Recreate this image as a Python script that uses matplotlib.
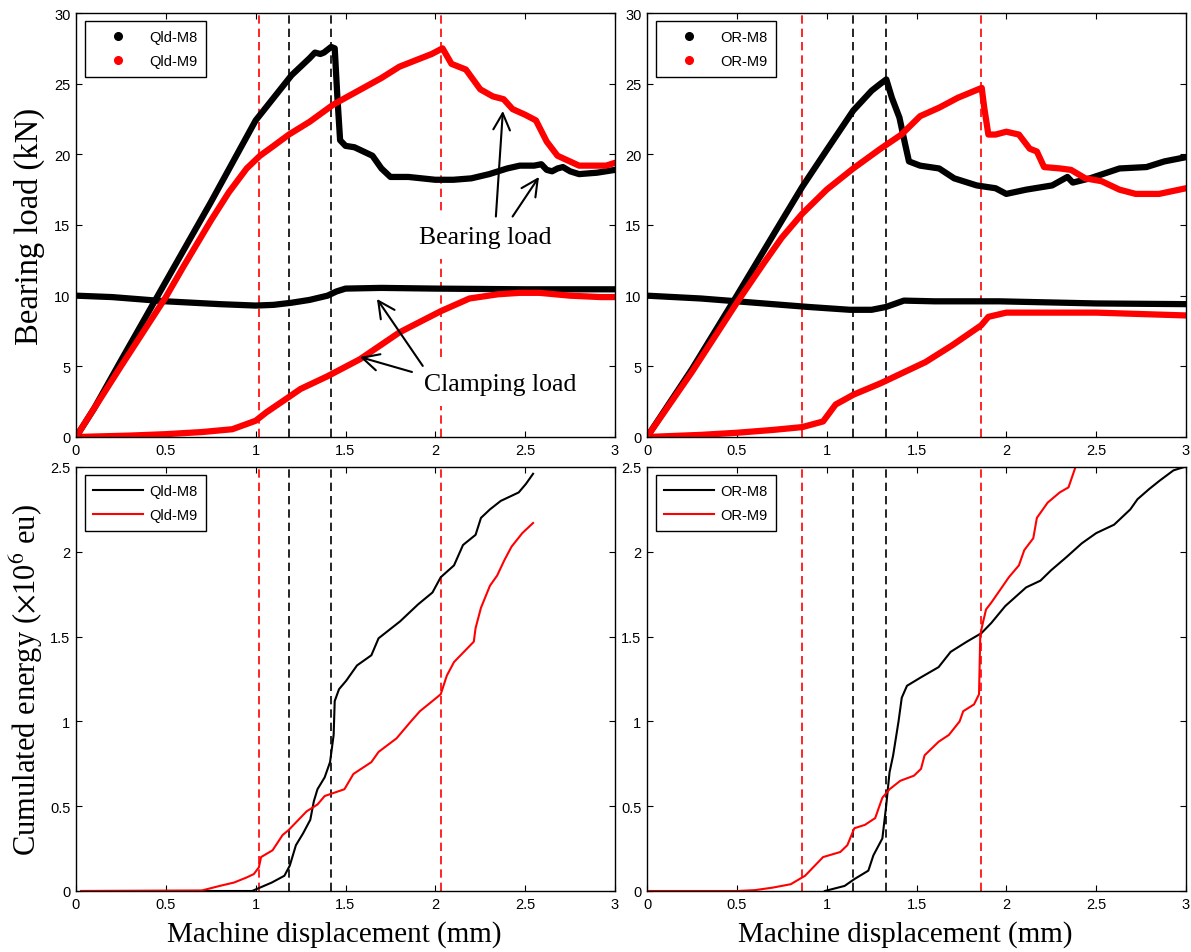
import matplotlib
matplotlib.use('Agg')
from matplotlib import pyplot as plt
from matplotlib.lines import Line2D
from matplotlib.ticker import FuncFormatter

plt.rcParams['font.family'] = 'Liberation Sans'
plt.rcParams['mathtext.fontset'] = 'stix'

# ---- Qld specimen, bearing / clamping load (kN) vs displacement (mm)
qld_m8_bear_x = [0, 0.1, 0.25, 0.5, 0.75, 1.0, 1.1, 1.2, 1.3, 1.33, 1.36, 1.38, 1.42, 1.44, 1.455, 1.47,
                 1.5, 1.55, 1.6, 1.65, 1.7, 1.75, 1.85, 2.0, 2.1, 2.2, 2.3, 2.4, 2.47, 2.55, 2.59, 2.62,
                 2.65, 2.68, 2.71, 2.75, 2.8, 2.9, 3.0]
qld_m8_bear_y = [0, 2.0, 5.4, 11.0, 16.6, 22.4, 24.0, 25.6, 26.8, 27.2, 27.1, 27.2, 27.6, 27.5, 24.0, 21.0,
                 20.6, 20.5, 20.2, 19.9, 19.0, 18.4, 18.4, 18.2, 18.2, 18.3, 18.6, 19.0, 19.2, 19.2, 19.3, 18.9,
                 18.8, 19.0, 19.1, 18.8, 18.6, 18.7, 18.9]
qld_m9_bear_x = [0, 0.25, 0.5, 0.6, 0.75, 0.85, 0.95, 1.024, 1.1, 1.185, 1.3, 1.43, 1.5, 1.6, 1.7, 1.8,
                 1.9, 1.98, 2.04, 2.09, 2.17, 2.25, 2.32, 2.38, 2.43, 2.5, 2.56, 2.62, 2.68, 2.8, 2.95, 3.0]
qld_m9_bear_y = [0, 5.0, 9.9, 12.1, 15.3, 17.3, 19.0, 19.9, 20.6, 21.4, 22.3, 23.5, 24.0, 24.7, 25.4, 26.2,
                 26.7, 27.1, 27.5, 26.4, 26.0, 24.6, 24.1, 23.9, 23.2, 22.8, 22.4, 20.9, 19.9, 19.2, 19.2, 19.4]
qld_m8_clamp_x = [0, 0.2, 0.5, 0.8, 1.0, 1.1, 1.2, 1.3, 1.4, 1.45, 1.5, 1.7, 2.0, 2.5, 3.0]
qld_m8_clamp_y = [10.0, 9.9, 9.6, 9.4, 9.3, 9.35, 9.5, 9.7, 10.0, 10.3, 10.5, 10.55, 10.5, 10.45, 10.45]
qld_m9_clamp_x = [0, 0.3, 0.5, 0.7, 0.87, 1.0, 1.06, 1.17, 1.25, 1.4, 1.58, 1.8, 2.03, 2.19, 2.35, 2.47,
                  2.58, 2.75, 2.92, 3.0]
qld_m9_clamp_y = [0.0, 0.1, 0.2, 0.35, 0.55, 1.15, 1.75, 2.7, 3.4, 4.3, 5.5, 7.4, 8.9, 9.8, 10.1, 10.2,
                  10.2, 10.0, 9.9, 9.9]

# ---- OR specimen
or_m8_bear_x = [0, 0.25, 0.5, 0.75, 0.864, 1.0, 1.148, 1.25, 1.3, 1.332, 1.363, 1.405, 1.437, 1.458, 1.52,
                1.626, 1.71, 1.835, 1.94, 2.0, 2.11, 2.255, 2.34, 2.37, 2.465, 2.63, 2.78, 2.88, 3.0]
or_m8_bear_y = [0, 4.8, 10.0, 15.3, 17.7, 20.3, 23.1, 24.5, 25.0, 25.3, 24.0, 22.6, 20.7, 19.5, 19.2,
                19.0, 18.3, 17.8, 17.6, 17.2, 17.5, 17.8, 18.4, 18.0, 18.3, 19.0, 19.1, 19.5, 19.8]
or_m9_bear_x = [0, 0.25, 0.5, 0.65, 0.75, 0.864, 1.0, 1.148, 1.3, 1.416, 1.52, 1.626, 1.73, 1.863, 1.877,
                1.9, 1.94, 2.0, 2.07, 2.13, 2.17, 2.21, 2.3, 2.36, 2.44, 2.53, 2.63, 2.72, 2.85, 3.0]
or_m9_bear_y = [0, 4.6, 9.5, 12.3, 14.1, 15.8, 17.5, 19.0, 20.4, 21.4, 22.7, 23.3, 24.0, 24.7, 23.3,
                21.4, 21.4, 21.6, 21.4, 20.4, 20.2, 19.1, 19.0, 18.9, 18.3, 18.1, 17.5, 17.2, 17.2, 17.6]
or_m8_clamp_x = [0, 0.3, 0.6, 0.9, 1.13, 1.25, 1.33, 1.43, 1.6, 1.96, 2.5, 3.0]
or_m8_clamp_y = [10.0, 9.8, 9.5, 9.2, 9.0, 9.0, 9.2, 9.65, 9.6, 9.6, 9.45, 9.4]
or_m9_clamp_x = [0, 0.3, 0.5, 0.7, 0.864, 0.98, 1.05, 1.15, 1.3, 1.4, 1.55, 1.7, 1.86, 1.9, 2.0, 2.5, 3.0]
or_m9_clamp_y = [0, 0.15, 0.3, 0.5, 0.7, 1.1, 2.3, 3.0, 3.8, 4.4, 5.3, 6.5, 7.9, 8.5, 8.8, 8.8, 8.6]

# ---- cumulated AE energy (x10^6 eu)
qld_m8_en_x = [0.03, 0.98, 1.024, 1.09, 1.16, 1.19, 1.224, 1.264, 1.304, 1.324, 1.344, 1.384, 1.414,
               1.434, 1.44, 1.464, 1.504, 1.564, 1.644, 1.684, 1.804, 1.904, 1.984, 2.03, 2.104, 2.154,
               2.224, 2.254, 2.304, 2.364, 2.464, 2.504, 2.544]
qld_m8_en_y = [0, 0, 0.02, 0.05, 0.09, 0.15, 0.27, 0.34, 0.42, 0.53, 0.6, 0.67, 0.76,
               0.92, 1.12, 1.19, 1.24, 1.33, 1.39, 1.49, 1.59, 1.69, 1.76, 1.85, 1.92, 2.04,
               2.10, 2.2, 2.25, 2.30, 2.35, 2.40, 2.46]
qld_m9_en_x = [0.03, 0.7, 0.8, 0.88, 0.95, 0.99, 1.018, 1.03, 1.094, 1.15, 1.184, 1.284, 1.344, 1.384,
               1.494, 1.544, 1.644, 1.684, 1.784, 1.864, 1.914, 1.984, 2.03, 2.064, 2.104, 2.214, 2.224,
               2.254, 2.304, 2.344, 2.384, 2.424, 2.484, 2.544]
qld_m9_en_y = [0, 0.003, 0.03, 0.05, 0.08, 0.1, 0.14, 0.2, 0.24, 0.33, 0.36, 0.47, 0.51, 0.56,
               0.6, 0.69, 0.76, 0.82, 0.9, 1.0, 1.06, 1.12, 1.16, 1.27, 1.35, 1.47, 1.55,
               1.67, 1.80, 1.86, 1.95, 2.03, 2.11, 2.17]
or_m8_en_x = [0.99, 1.1, 1.154, 1.232, 1.26, 1.31, 1.33, 1.35, 1.37, 1.40, 1.418, 1.447, 1.525, 1.623,
              1.69, 1.78, 1.861, 1.916, 1.994, 2.11, 2.19, 2.248, 2.336, 2.42, 2.5, 2.6, 2.69, 2.73,
              2.795, 2.854, 2.93, 2.99]
or_m8_en_y = [0, 0.03, 0.07, 0.12, 0.21, 0.31, 0.49, 0.70, 0.80, 1.0, 1.14, 1.21, 1.26, 1.32,
              1.41, 1.47, 1.52, 1.58, 1.68, 1.79, 1.83, 1.89, 1.97, 2.05, 2.11, 2.16, 2.25, 2.31,
              2.37, 2.42, 2.48, 2.5]
or_m9_en_x = [0.0, 0.5, 0.6, 0.7, 0.8, 0.88, 0.98, 1.076, 1.115, 1.154, 1.213, 1.27, 1.31, 1.35, 1.41,
              1.486, 1.525, 1.545, 1.623, 1.68, 1.74, 1.76, 1.82, 1.848, 1.855, 1.867, 1.887, 1.916,
              1.975, 2.014, 2.07, 2.1, 2.15, 2.17, 2.23, 2.297, 2.346, 2.385]
or_m9_en_y = [0, 0.0, 0.005, 0.02, 0.04, 0.09, 0.2, 0.23, 0.27, 0.37, 0.39, 0.43, 0.55, 0.60, 0.65,
              0.68, 0.72, 0.80, 0.88, 0.92, 1.0, 1.06, 1.10, 1.16, 1.51, 1.57, 1.66, 1.70,
              1.79, 1.85, 1.92, 2.01, 2.08, 2.20, 2.29, 2.35, 2.38, 2.5]

# vertical marker positions (mm)
qld_black_marks = [1.185, 1.42]
qld_red_marks = [1.02, 2.03]
or_black_marks = [1.148, 1.332]
or_red_marks = [0.865, 1.861]

serif = 'Liberation Serif'
fmt = FuncFormatter(lambda v, p: '%g' % v)

fig = plt.figure(figsize=(11.91, 9.53), dpi=100)
W, H = 1191, 953


def make_ax(left, top):
    ax = fig.add_axes([left / W, 1 - (top + 424) / H, 539 / W, 424 / H])
    ax.tick_params(direction='in', top=True, right=True, length=4, width=0.8,
                   labelsize=10.5, pad=4)
    for s in ax.spines.values():
        s.set_linewidth(1.0)
    ax.xaxis.set_major_formatter(fmt)
    ax.yaxis.set_major_formatter(fmt)
    ax.set_xlim(0, 3)
    ax.set_xticks([0, 0.5, 1, 1.5, 2, 2.5, 3])
    return ax


def marks(ax, black, red):
    for x in black:
        ax.axvline(x, color='k', ls=(0, (5, 3)), lw=1.2, zorder=1)
    for x in red:
        ax.axvline(x, color='red', ls=(0, (5, 3)), lw=1.2, zorder=1)


def add_legend(ax, handles, names):
    leg = ax.legend(handles, names, loc='upper left', bbox_to_anchor=(0.016, 0.981),
                    borderaxespad=0, fontsize=10.5, handlelength=3.4, handletextpad=0.4,
                    borderpad=0.6, labelspacing=0.7, fancybox=False, edgecolor='k',
                    framealpha=1)
    leg.get_frame().set_linewidth(1.0)


def top_panel(ax, names, m8b, m9b, m8c, m9c):
    ax.plot(*m8c, color='k', lw=4.5, zorder=2, solid_capstyle='round', solid_joinstyle='round')
    ax.plot(*m9c, color='red', lw=4.5, zorder=2, solid_capstyle='round', solid_joinstyle='round')
    ax.plot(*m8b, color='k', lw=4.5, zorder=2, solid_capstyle='round', solid_joinstyle='round')
    ax.plot(*m9b, color='red', lw=4.5, zorder=2, solid_capstyle='round', solid_joinstyle='round')
    ax.set_ylim(0, 30)
    ax.set_yticks(range(0, 31, 5))
    handles = [Line2D([], [], color='k', marker='.', ls='none', markersize=11),
               Line2D([], [], color='red', marker='.', ls='none', markersize=11)]
    add_legend(ax, handles, names)


def bottom_panel(ax, names, m8e, m9e):
    l1, = ax.plot(*m8e, color='k', lw=1.5, zorder=2)
    l2, = ax.plot(*m9e, color='red', lw=1.5, zorder=2)
    ax.set_ylim(0, 2.5)
    ax.set_yticks([0, 0.5, 1, 1.5, 2, 2.5])
    add_legend(ax, [l1, l2], names)
    ax.set_xlabel('Machine displacement (mm)', family=serif, fontsize=21)
    ax.xaxis.set_label_coords(0.48, -0.068)


ax1 = make_ax(76, 14)
ax2 = make_ax(647, 14)
ax3 = make_ax(76, 468)
ax4 = make_ax(647, 468)

marks(ax1, qld_black_marks, qld_red_marks)
marks(ax3, qld_black_marks, qld_red_marks)
marks(ax2, or_black_marks, or_red_marks)
marks(ax4, or_black_marks, or_red_marks)

top_panel(ax1, ['Qld-M8', 'Qld-M9'], (qld_m8_bear_x, qld_m8_bear_y), (qld_m9_bear_x, qld_m9_bear_y),
          (qld_m8_clamp_x, qld_m8_clamp_y), (qld_m9_clamp_x, qld_m9_clamp_y))
top_panel(ax2, ['OR-M8', 'OR-M9'], (or_m8_bear_x, or_m8_bear_y), (or_m9_bear_x, or_m9_bear_y),
          (or_m8_clamp_x, or_m8_clamp_y), (or_m9_clamp_x, or_m9_clamp_y))
bottom_panel(ax3, ['Qld-M8', 'Qld-M9'], (qld_m8_en_x, qld_m8_en_y), (qld_m9_en_x, qld_m9_en_y))
bottom_panel(ax4, ['OR-M8', 'OR-M9'], (or_m8_en_x, or_m8_en_y), (or_m9_en_x, or_m9_en_y))

ax1.set_ylabel('Bearing load (kN)', family=serif, fontsize=23.5)
ax1.yaxis.set_label_coords(-0.058, 0.5)
ax3.set_ylabel('Cumulated energy ($\\times$10$^{6}$ eu)', family=serif, fontsize=22)
ax3.yaxis.set_label_coords(-0.058, 0.5)

# annotations on the Qld panel
box = dict(facecolor='white', edgecolor='none', pad=8)
ax1.text(2.28, 14.15, 'Bearing load', family=serif, fontsize=18.5, ha='center', va='center',
         bbox=box, zorder=4)
ax1.text(2.36, 3.75, 'Clamping load', family=serif, fontsize=18.5, ha='center', va='center',
         bbox=box, zorder=4)
arrow = dict(arrowstyle='->,head_length=0.6,head_width=0.3', color='k', lw=1.5,
             shrinkA=0, shrinkB=0, mutation_scale=20)
ax1.annotate('', xy=(2.376, 23.07), xytext=(2.337, 15.6), arrowprops=arrow, zorder=6)
ax1.annotate('', xy=(2.577, 18.4), xytext=(2.43, 15.6), arrowprops=arrow, zorder=6)
ax1.annotate('', xy=(1.675, 9.77), xytext=(1.93, 5.03), arrowprops=arrow, zorder=6)
ax1.annotate('', xy=(1.58, 5.66), xytext=(1.87, 4.6), arrowprops=arrow, zorder=6)

plt.savefig('out.png', dpi=100)
